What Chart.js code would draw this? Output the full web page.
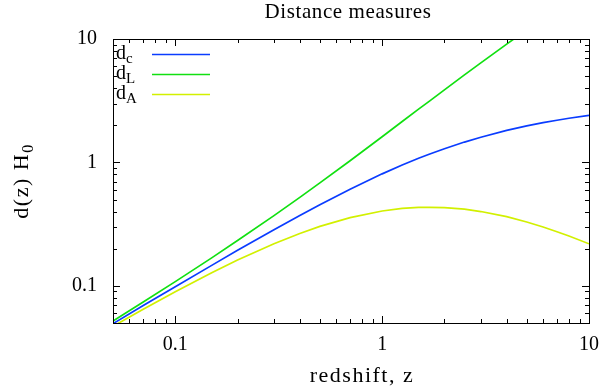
<!DOCTYPE html>
<html>
<head>
<meta charset="utf-8">
<script src="https://cdn.jsdelivr.net/npm/chart.js@4"></script>
<style>
  html, body { margin: 0; padding: 0; background: #fff; }
</style>
</head>
<body>
<canvas id="myChart" width="603" height="392"></canvas>
<script>
// valori
const redshift = [0.05, 0.07, 0.1, 0.15, 0.2, 0.3, 0.4, 0.5, 0.7, 1, 1.25, 1.5, 1.7, 2, 2.5, 3, 4, 5, 6, 7, 8, 10];
const comoving = [0.0494, 0.0692, 0.0984, 0.1465, 0.194, 0.285, 0.372, 0.455, 0.607, 0.808, 0.953, 1.08, 1.169, 1.29, 1.462, 1.6, 1.818, 1.976, 2.098, 2.197, 2.279, 2.41];
const luminosity = [0.0519, 0.074, 0.1082, 0.1685, 0.2328, 0.3705, 0.521, 0.683, 1.032, 1.616, 2.144, 2.7, 3.156, 3.87, 5.117, 6.4, 9.09, 11.86];
const angular = [0.047, 0.0647, 0.0895, 0.1274, 0.1617, 0.2192, 0.2657, 0.3033, 0.3571, 0.404, 0.4236, 0.432, 0.433, 0.43, 0.4177, 0.4, 0.3636, 0.3293, 0.2997, 0.2746, 0.2532, 0.2191];
const tickLabels = [0.1, 1, 10];
const seriesNames = ["c", "L", "A"];
const seriesColors = ["#0a3cff", "#11e011", "#d2f000"];

const serif = "'Liberation Serif', 'DejaVu Serif', serif";
const ctx = document.getElementById("myChart");

function points(values) {
    return values.map((v, i) => ({ x: redshift[i], y: v }));
}

// tacche minori e maggiori (1..9 x 10^e)
function logTicks(min, max) {
    const out = [];
    for (let e = -2; e <= 1; e++) {
        for (let m = 1; m <= 9; m++) {
            const v = m * Math.pow(10, e);
            if (v >= min - 1e-9 && v <= max + 1e-9) out.push({ v: v, major: m === 1 });
        }
    }
    return out;
}

function spaced(c, spacing) {
    if ("letterSpacing" in c) c.letterSpacing = spacing + "px";
}

const framePlugin = {
    id: "frame",
    afterDatasetsDraw(chart) {
        const c = chart.ctx;
        const a = chart.chartArea;
        const x = chart.scales.x;
        const y = chart.scales.y;
        c.save();
        c.strokeStyle = "#000";
        c.lineWidth = 1;
        c.beginPath();
        logTicks(x.min, x.max).forEach((t) => {
            const px = Math.round(x.getPixelForValue(t.v)) + 0.5;
            const len = t.major ? 7 : 4;
            c.moveTo(px, a.bottom); c.lineTo(px, a.bottom - len);
            c.moveTo(px, a.top); c.lineTo(px, a.top + len);
        });
        logTicks(y.min, y.max).forEach((t) => {
            const py = Math.round(y.getPixelForValue(t.v)) + 0.5;
            const len = t.major ? 7 : 4;
            c.moveTo(a.left, py); c.lineTo(a.left + len, py);
            c.moveTo(a.right, py); c.lineTo(a.right - len, py);
        });
        c.stroke();
        c.strokeRect(Math.round(a.left) + 0.5, Math.round(a.top) + 0.5,
            Math.round(a.right - a.left), Math.round(a.bottom - a.top));

        c.fillStyle = "#000";

        // titolo
        c.save();
        c.font = "21px " + serif;
        spaced(c, 0.6);
        c.textAlign = "center";
        c.textBaseline = "middle";
        c.fillText("Distance measures", 348, 12);
        c.restore();

        // titolo asse x
        c.save();
        c.font = "22px " + serif;
        spaced(c, 1.5);
        c.textAlign = "center";
        c.textBaseline = "middle";
        c.fillText("redshift, z", 362, 376);
        c.restore();

        // legenda con pedici
        c.textBaseline = "alphabetic";
        c.textAlign = "left";
        seriesNames.forEach((name, i) => {
            const lineY = 54 + i * 20;
            c.font = "20px " + serif;
            c.fillText("d", 116, lineY + 5);
            const w = c.measureText("d").width;
            c.font = "15px " + serif;
            c.fillText(name, 116 + w, lineY + 9);
            c.strokeStyle = seriesColors[i];
            c.lineWidth = 1.5;
            c.beginPath();
            c.moveTo(152, lineY + 0.5);
            c.lineTo(210, lineY + 0.5);
            c.stroke();
        });

        // titolo asse y: d(z) H0
        c.save();
        c.translate(28, (a.top + a.bottom) / 2);
        c.rotate(-Math.PI / 2);
        spaced(c, 1.5);
        c.font = "22px " + serif;
        const main = "d(z) H";
        const w1 = c.measureText(main).width;
        c.font = "16px " + serif;
        const w2 = c.measureText("0").width;
        const start = -(w1 + w2) / 2;
        c.font = "22px " + serif;
        c.fillText(main, start, 0);
        c.font = "16px " + serif;
        c.fillText("0", start + w1, 5);
        c.restore();
        c.restore();
    },
};

const axisTicks = {
    autoSkip: false,
    maxRotation: 0,
    color: "#000",
    font: { family: serif, size: 20 },
    callback: (value) => String(value),
};

function noPadding(axis) {
    axis.paddingLeft = 0;
    axis.paddingRight = 0;
    axis.paddingTop = 0;
    axis.paddingBottom = 0;
}

new Chart(ctx, {
    type: "scatter",
    data: {
        datasets: [
            { label: "dc", data: points(comoving), borderColor: seriesColors[0] },
            { label: "dL", data: points(luminosity), borderColor: seriesColors[1] },
            { label: "dA", data: points(angular), borderColor: seriesColors[2] },
        ].map((d) => Object.assign(d, {
            showLine: true,
            pointRadius: 0,
            borderWidth: 1.7,
            tension: 0,
            backgroundColor: d.borderColor,
        })),
    },
    options: {
        responsive: false,
        animation: false,
        devicePixelRatio: 1,
        layout: { padding: { left: 0, right: 14, top: 39, bottom: 0 } },
        plugins: {
            legend: { display: false },
            tooltip: { enabled: false },
            title: { display: false },
        },
        scales: {
            x: {
                type: "logarithmic",
                min: 0.05,
                max: 10,
                grid: { display: false, drawTicks: false },
                border: { display: false },
                afterBuildTicks: (axis) => { axis.ticks = tickLabels.map((v) => ({ value: v })); },
                afterFit: (axis) => { axis.height = 69; noPadding(axis); },
                ticks: Object.assign({ padding: 10 }, axisTicks),
            },
            y: {
                type: "logarithmic",
                min: 0.05,
                max: 10,
                grid: { display: false, drawTicks: false },
                border: { display: false },
                afterBuildTicks: (axis) => { axis.ticks = tickLabels.map((v) => ({ value: v })); },
                afterFit: (axis) => { axis.width = 113; noPadding(axis); },
                ticks: Object.assign({ padding: 16 }, axisTicks),
            },
        },
    },
    plugins: [framePlugin],
});
</script>
</body>
</html>
